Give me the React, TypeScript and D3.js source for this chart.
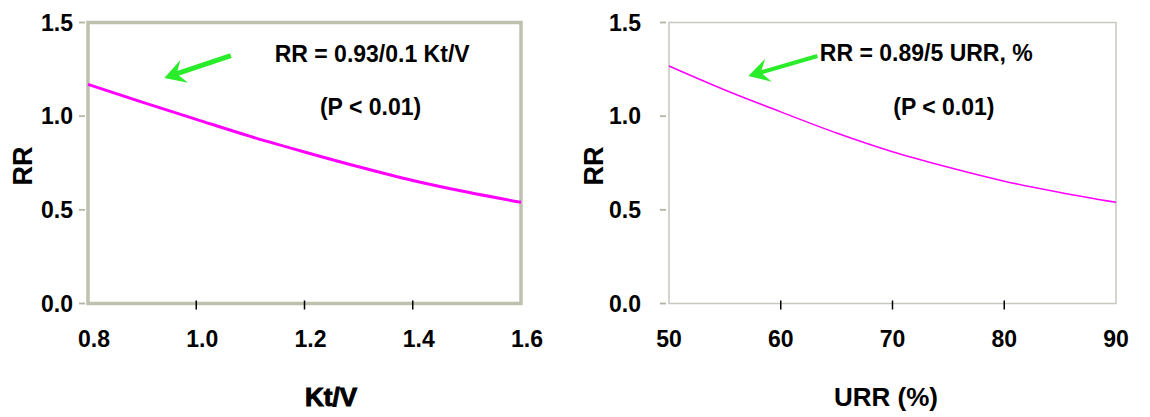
import * as d3 from 'd3';
import React from 'react';

// values
const ktvX = [0.8, 0.9, 1.0, 1.1, 1.2, 1.3, 1.4, 1.5, 1.6];
const ktvRR = [1.17, 1.075, 0.983, 0.892, 0.809, 0.73, 0.657, 0.595, 0.54];
const urrX = [50, 55, 60, 65, 70, 75, 80, 85, 90];
const urrRR = [1.268, 1.14, 1.023, 0.91, 0.81, 0.727, 0.653, 0.593, 0.54];

const ktvTicks = [0.8, 1.0, 1.2, 1.4, 1.6];
const urrTicks = [50, 60, 70, 80, 90];
const rrTicks = [0, 0.5, 1.0, 1.5];

const ktvNotes = ['RR = 0.93/0.1 Kt/V', '(P < 0.01)'];
const urrNotes = ['RR = 0.89/5 URR, %', '(P < 0.01)'];

const FONT = '"Liberation Sans", Arial, Helvetica, sans-serif';
const GREEN = '#2bec2b';
const MAGENTA = '#ff00ff';

type PanelProps = {
  xs: number[];
  ys: number[];
  xDomain: [number, number];
  xRange: [number, number];
  xTicks: number[];
  fmt: (v: number) => string;
  labelShift: number;
  yLabelGap: number;
  frameColor: string;
  frameWidth: number;
  lineWidth: number;
  title: string;
  titleX: number;
  titleStroke: number;
  rrX: number;
  notes: string[];
  note1: [number, number];
  note1Anchor: string;
  note2: [number, number];
  arrowTail: [number, number];
  arrowTip: [number, number];
  shaftWidth: number;
};

const Panel = (p: PanelProps) => {
  const x = d3.scaleLinear().domain(p.xDomain).range(p.xRange);
  const y = d3.scaleLinear().domain([0, 1.5]).range([303.5, 22.5]);
  const line = d3.line<number>()
    .x((d, i) => x(p.xs[i]))
    .y(d => y(d))
    .curve(d3.curveMonotoneX);

  const left = x(p.xDomain[0]);
  const right = x(p.xDomain[1]);
  const top = y(1.5);
  const bottom = y(0);

  // arrow in pixel space from data anchors
  const tx = x(p.arrowTail[0]), ty = y(p.arrowTail[1]);
  const hx = x(p.arrowTip[0]), hy = y(p.arrowTip[1]);
  const len = Math.hypot(hx - tx, hy - ty);
  const ux = (hx - tx) / len, uy = (hy - ty) / len;
  const px = -uy, py = ux;
  const L = 21, W = 12;
  const bx = hx - ux * L, by = hy - uy * L;
  const nx = hx - ux * L * 0.62, ny = hy - uy * L * 0.62;
  const head = `M${hx},${hy}L${bx + px * W},${by + py * W}L${nx},${ny}L${bx - px * W},${by - py * W}Z`;

  return (
    <g fontFamily={FONT} fontWeight="bold" fill="#000">
      <rect x={left} y={top} width={right - left} height={bottom - top}
        fill="none" stroke={p.frameColor} strokeWidth={p.frameWidth} />
      {rrTicks.map(t => (
        <g key={'y' + t}>
          <line x1={left - 9} x2={left - 3} y1={y(t)} y2={y(t)} stroke="#b4b4a6" strokeWidth={1.8} />
          <text x={left - p.yLabelGap} y={y(t)} dy="0.36em" textAnchor="end" fontSize={23}>
            {t.toFixed(1)}
          </text>
        </g>
      ))}
      {p.xTicks.map((t, i) => (
        <g key={'x' + t}>
          {i > 0 && i < p.xTicks.length - 1 &&
            <line x1={x(t)} x2={x(t)} y1={bottom - 3} y2={bottom + 6} stroke="#000" strokeWidth={1.5} />}
          <text x={x(t) + p.labelShift} y={347} textAnchor="middle" fontSize={23}>{p.fmt(t)}</text>
        </g>
      ))}
      <path d={line(p.ys) || ''} fill="none" stroke={MAGENTA} strokeWidth={p.lineWidth} />
      <line x1={tx} y1={ty} x2={nx + ux * 2} y2={ny + uy * 2} stroke={GREEN} strokeWidth={p.shaftWidth} />
      <path d={head} fill={GREEN} />
      <text x={x(p.note1[0])} y={y(p.note1[1])} textAnchor={p.note1Anchor} fontSize={23}>{p.notes[0]}</text>
      <text x={x(p.note2[0])} y={y(p.note2[1])} textAnchor="middle" fontSize={23}>{p.notes[1]}</text>
      <text transform={`translate(${p.rrX},166) rotate(-90)`} dy="0.36em" textAnchor="middle" fontSize={27}>RR</text>
      <text x={p.titleX} y={406} textAnchor="middle" fontSize={26}
        stroke="#000" strokeWidth={p.titleStroke}>{p.title}</text>
    </g>
  );
};

export default function App() {
  return (
    <div style={{ position: 'absolute', left: 0, top: 0 }}>
      <svg width={1150} height={417} style={{ display: 'block', background: '#fff' }}>
        <Panel
          xs={ktvX} ys={ktvRR} xDomain={[0.8, 1.6]} xRange={[88, 521]} xTicks={ktvTicks}
          fmt={v => v.toFixed(1)} labelShift={6} yLabelGap={15}
          frameColor="#c0c0ae" frameWidth={3.5} lineWidth={3}
          title="Kt/V" titleX={331} titleStroke={1} rrX={22}
          notes={ktvNotes} note1={[1.325, 1.29]} note1Anchor="middle" note2={[1.322, 1.005]}
          arrowTail={[1.064, 1.323]} arrowTip={[0.941, 1.204]} shaftWidth={5}
        />
        <Panel
          xs={urrX} ys={urrRR} xDomain={[50, 90]} xRange={[669, 1116]} xTicks={urrTicks}
          fmt={v => String(v)} labelShift={0} yLabelGap={28}
          frameColor="#c8c8c0" frameWidth={1.5} lineWidth={1.5}
          title="URR (%)" titleX={886} titleStroke={0} rrX={593}
          notes={urrNotes} note1={[63.5, 1.294]} note1Anchor="start" note2={[74.6, 1.006]}
          arrowTail={[63.28, 1.321]} arrowTip={[57.1, 1.214]} shaftWidth={4}
        />
      </svg>
    </div>
  );
}
